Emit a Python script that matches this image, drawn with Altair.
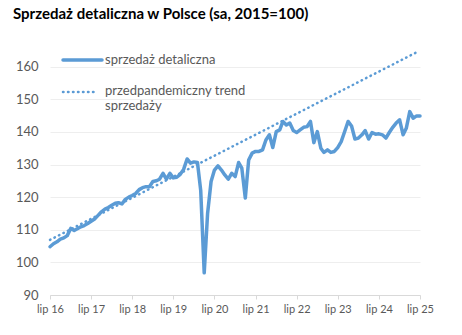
import altair as alt
import pandas as pd

# Monthly retail sales index (sa, 2015=100), Jul 2016 - Jul 2025
months = pd.date_range("2016-07-01", "2025-07-01", freq="MS").strftime("%Y-%m-%d").tolist()
sales = [
    104.8, 105.7, 106.3, 107.1, 107.5, 108.2, 110.4, 109.8, 110.3, 110.9, 111.3, 111.9,
    112.6, 113.3, 114.4, 115.5, 116.3, 116.8, 117.5, 118.1, 118.3, 117.9, 119.3, 120.0,
    120.5, 121.1, 122.3, 122.9, 123.2, 123.2, 124.8, 125.0, 125.5, 127.3, 125.5, 127.3,
    125.9, 126.1, 127.0, 128.5, 131.7, 130.4, 130.8, 130.6, 122.0, 96.8, 115.0, 124.8,
    128.3, 129.6, 128.3, 126.8, 125.5, 127.3, 126.3, 130.6, 128.9, 119.7, 131.4, 133.5,
    134.0, 134.0, 134.5, 137.5, 139.1, 135.2, 140.1, 140.6, 143.2, 142.1, 142.7, 140.4,
    139.8, 140.6, 141.4, 141.6, 143.2, 136.7, 140.1, 135.0, 133.7, 134.5, 133.7, 134.0,
    135.2, 137.0, 140.1, 143.2, 141.8, 137.8, 138.1, 139.1, 140.4, 137.8, 139.8, 139.3,
    139.4, 139.1, 138.1, 139.8, 141.4, 142.7, 143.7, 139.1, 141.1, 146.2, 144.2, 144.9,
    144.9,
]

# Pre-pandemic trend line: start and end points
trend_dates = ["2016-07-01", "2025-06-01"]
trend_values = [106.9, 164.4]

tick_years = list(range(2016, 2026))
y_ticks = [90, 100, 110, 120, 130, 140, 150, 160]

legend_labels = ["sprzedaż detaliczna", "przedpandemiczny trend\nsprzedaży"]
title_text = "Sprzedaż detaliczna w Polsce (sa, 2015=100)"

BLUE = "#5b9bd5"
GRAY = "#595959"
FONT = "Lato"

df = pd.DataFrame({"date": months, "value": sales})
tdf = pd.DataFrame({"date": trend_dates, "value": trend_values})

x_scale = alt.Scale(type="utc", domain=[alt.DateTime(year=2016, month=7, date=1, utc=True),
                                        alt.DateTime(year=2025, month=7, date=1, utc=True)])
y_scale = alt.Scale(domain=[90, 170], nice=False, zero=False)

x_axis = alt.Axis(
    title=None,
    values=[alt.DateTime(year=y, month=7, date=1, utc=True) for y in tick_years],
    labelExpr="'lip ' + utcFormat(datum.value, '%y')",
    grid=False, domainColor="#d9d9d9", tickColor="#d9d9d9", tickSize=4,
    labelFontSize=11, labelColor=GRAY, labelFont=FONT, labelPadding=4,
    labelFlush=False, labelOverlap=False,
)
y_axis = alt.Axis(
    title=None, values=y_ticks, domain=False, ticks=False,
    gridColor="#eeeeee", labelFontSize=13, labelColor=GRAY, labelFont=FONT,
    labelPadding=12, labelOverlap=False, labelFlush=False,
)

sales_line = alt.Chart(df).mark_line(
    color=BLUE, strokeWidth=3.5, strokeJoin="round", strokeCap="round"
).encode(
    x=alt.X("date:T", scale=x_scale, axis=x_axis),
    y=alt.Y("value:Q", scale=y_scale, axis=y_axis),
)

trend_line = alt.Chart(tdf).mark_line(
    color=BLUE, strokeWidth=2.5, strokeDash=[0.5, 4.5], strokeCap="round"
).encode(
    x=alt.X("date:T", scale=x_scale, axis=x_axis),
    y=alt.Y("value:Q", scale=y_scale, axis=y_axis),
)

one = pd.DataFrame({"k": [0]})
leg_solid = alt.Chart(one).mark_rule(color=BLUE, strokeWidth=3.5, strokeCap="round").encode(
    x=alt.value(13), x2=alt.value(52), y=alt.value(26)
)
leg_dot = alt.Chart(one).mark_rule(color=BLUE, strokeWidth=2.5, strokeDash=[0.5, 4.5], strokeCap="round").encode(
    x=alt.value(13), x2=alt.value(45), y=alt.value(58)
)
leg_t1 = alt.Chart(one).mark_text(
    align="left", baseline="middle", fontSize=13, font=FONT, color=GRAY
).encode(x=alt.value(55), y=alt.value(26), text=alt.value(legend_labels[0]))
leg_t2 = alt.Chart(one).mark_text(
    align="left", baseline="top", fontSize=13, font=FONT, color=GRAY,
    lineBreak="\n", lineHeight=15,
).encode(x=alt.value(55), y=alt.value(51), text=alt.value(legend_labels[1]))

chart = alt.layer(
    sales_line, trend_line, leg_solid, leg_dot, leg_t1, leg_t2
).properties(
    width=370, height=261,
    title=alt.TitleParams(title_text, anchor="start", frame="group", dx=-37, offset=12,
                          fontSize=15, font=FONT, fontWeight="bold", color="#000000"),
    autosize=alt.AutoSizeParams(type="none"),
    padding={"left": 50, "top": 34, "right": 42, "bottom": 40},
).configure_view(stroke=None)

chart.save("out.html", embed_options={"renderer": "svg", "actions": False})
